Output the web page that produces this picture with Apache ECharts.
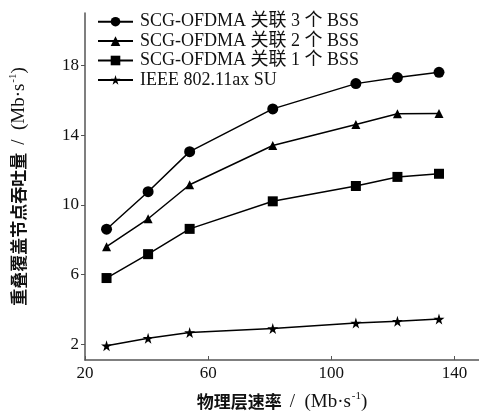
<!DOCTYPE html>
<html><head><meta charset="utf-8">
<script src="https://cdn.jsdelivr.net/npm/echarts@6/dist/echarts.min.js"></script>
<style>html,body{margin:0;padding:0;background:#fff}#c{width:479px;height:413px}</style>
</head><body><div id="c"></div>
<script>
const rates = [27, 40.5, 54, 81, 108, 121.5, 135];
const bss3 = [8.6, 10.75, 13.05, 15.5, 16.95, 17.3, 17.6];
const bss2 = [7.6, 9.2, 11.15, 13.4, 14.6, 15.22, 15.23];
const bss1 = [5.8, 7.17, 8.62, 10.2, 11.08, 11.6, 11.78];
const su = [1.92, 2.35, 2.68, 2.9, 3.22, 3.32, 3.45];
const seriesNames = ['SCG-OFDMA 关联 3 个 BSS','SCG-OFDMA 关联 2 个 BSS','SCG-OFDMA 关联 1 个 BSS','IEEE 802.11ax SU'];
const xTicks = [20, 60, 100, 140];
const yTicks = [2, 6, 10, 14, 18];

const serif = '"Liberation Serif","Times New Roman","Noto Sans CJK SC",serif';
const cjk = '"Noto Sans CJK SC","Liberation Serif",sans-serif';
const symbols = ['circle','triangle','rect','path://M50,0 L61,35 L98,35 L68,57 L79,91 L50,70 L21,91 L32,57 L2,35 L39,35 Z'];
const sizes = [11, 9, 10, 11];
const datas = [bss3, bss2, bss1, su];

const nameRich = {
  a:{fontFamily:cjk, fontSize:17, fontWeight:'bold', color:'#111', lineHeight:22, padding:[0,8,0,0]},
  b:{fontFamily:serif, fontSize:19, color:'#111', lineHeight:22},
  s:{fontFamily:serif, fontSize:11, color:'#111', lineHeight:22, padding:[0,0,12,1]}
};

const chart = echarts.init(document.getElementById('c'), null, {renderer:'canvas'});
chart.setOption({
  animation:false,
  backgroundColor:'#fff',
  grid:{left:85, top:13, right:0, bottom:53, containLabel:false, outerBoundsMode:'none'},
  legend:{
    orient:'vertical', left:92, top:7, itemWidth:35, itemHeight:12, itemGap:0,
    data: seriesNames,
    textStyle:{fontFamily:serif, fontSize:18, color:'#111', lineHeight:19.4, padding:[0,0,0,2]}
  },
  xAxis:{
    type:'value', min:20, max:148,
    name:'{a|物理层速率}{b|/  (Mb·s}{s|-1}{b|)}',
    nameLocation:'middle', nameGap:31,
    nameTextStyle:{rich:nameRich},
    axisLine:{show:true, lineStyle:{color:'#555', width:1.5}},
    axisTick:{show:true, inside:true, length:4, customValues:xTicks, lineStyle:{color:'#555'}},
    axisLabel:{customValues:xTicks, fontFamily:serif, fontSize:17, color:'#111', margin:5},
    splitLine:{show:false}
  },
  yAxis:{
    type:'value', min:1.1, max:21,
    name:'{a|重叠覆盖节点吞吐量}{b|/  (Mb·s}{s|-1}{b|)}',
    nameLocation:'middle', nameGap:55, nameRotate:90,
    nameTextStyle:{rich:nameRich},
    axisLine:{show:true, lineStyle:{color:'#555', width:1.5}},
    axisTick:{show:true, inside:false, length:4, customValues:yTicks, lineStyle:{color:'#555'}},
    axisLabel:{customValues:yTicks, fontFamily:serif, fontSize:17, color:'#111', margin:6},
    splitLine:{show:false}
  },
  series: seriesNames.map((n,i)=>({
    name:n, type:'line',
    data: rates.map((x,j)=>[x, datas[i][j]]),
    symbol: symbols[i], symbolSize: sizes[i], showSymbol:true,
    itemStyle:{color:'#000', borderWidth:0},
    lineStyle:{color:'#000', width:1.5}
  }))
});
</script></body></html>
